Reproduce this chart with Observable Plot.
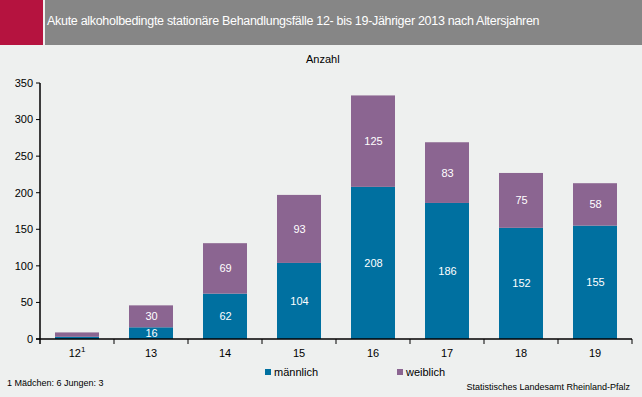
<!DOCTYPE html>
<html><head><meta charset="utf-8">
<script src="https://cdn.jsdelivr.net/npm/d3@7"></script>
<script src="https://cdn.jsdelivr.net/npm/@observablehq/plot@0.6"></script>
<style>
body{margin:0;}
#wrap{position:relative;width:642px;height:397px;background:#eef0ef;font-family:"Liberation Sans",Arial,sans-serif;overflow:hidden;}
#red{position:absolute;left:0;top:0;width:43px;height:45px;background:#b5133f;}
#gray{position:absolute;left:45px;top:0;width:597px;height:45px;background:#868686;}
#title{position:absolute;left:47px;top:14px;color:#fff;font-size:12.5px;letter-spacing:-0.3px;white-space:nowrap;}
#anzahl{position:absolute;left:306px;top:53px;font-size:11px;color:#000;}
#chart{position:absolute;left:0;top:0;}
.leg{position:absolute;top:366px;font-size:11px;color:#000;white-space:nowrap;}
.sw{display:inline-block;width:6px;height:6px;margin-right:3px;vertical-align:1px;}
#foot{position:absolute;left:7px;top:378px;font-size:9px;color:#000;}
#src{position:absolute;right:12px;top:382px;font-size:9px;color:#000;}
</style></head>
<body>
<div id="wrap">
<div id="chart"></div>
<div id="red"></div><div id="gray"></div>
<div id="title">Akute alkoholbedingte stationäre Behandlungsfälle 12- bis 19-Jähriger 2013 nach Altersjahren</div>
<div id="anzahl">Anzahl</div>
<div class="leg" style="left:265px"><span class="sw" style="background:#0070a0"></span>männlich</div>
<div class="leg" style="left:397px"><span class="sw" style="background:#8b6591"></span>weiblich</div>
<div id="foot">1 Mädchen: 6 Jungen: 3</div>
<div id="src">Statistisches Landesamt Rheinland-Pfalz</div>
</div>
<script>
const ages = ["12","13","14","15","16","17","18","19"];
const tickLabels = ["12¹","13","14","15","16","17","18","19"];
const maennlich = [3,16,62,104,208,186,152,155];
const weiblich = [6,30,69,93,125,83,75,58];
const showLabel = [false,true,true,true,true,true,true,true];
const colors = {"männlich":"#0070a0","weiblich":"#8b6591"};

const data = [];
ages.forEach((a,i)=>{
  data.push({age:a, sex:"männlich", value:maennlich[i], label:showLabel[i]});
  data.push({age:a, sex:"weiblich", value:weiblich[i], label:showLabel[i]});
});

const W=642, H=397, mt=83, mb=58, ml=40, mr=10;
const plot = Plot.plot({
  width:W, height:H, marginTop:mt, marginBottom:mb, marginLeft:ml, marginRight:mr,
  style:{background:"transparent", fontFamily:"'Liberation Sans',Arial,sans-serif", fontSize:"11px", color:"#000"},
  x:{domain:ages, paddingInner:0.4, paddingOuter:0.2, axis:null},
  y:{domain:[0,350], axis:null},
  color:{domain:["männlich","weiblich"], range:[colors["männlich"],colors["weiblich"]]},
  marks:[
    Plot.barY(data, Plot.stackY({x:"age", y:"value", fill:"sex", order:["männlich","weiblich"]})),
    Plot.text(data.filter(d=>d.label), Plot.stackY({x:"age", y:"value", z:"sex", order:["männlich","weiblich"], text:d=>String(d.value), fill:"white", fontSize:11}))
  ]
});

const svg = d3.select(plot);
const xs = plot.scale("x"), ys = plot.scale("y");
const y0 = ys.apply(0), y350 = ys.apply(350);
const g = svg.append("g").attr("stroke","#000");
g.append("line").attr("x1",ml).attr("x2",ml).attr("y1",y350).attr("y2",y0+5).attr("stroke-width",1.5);
g.append("line").attr("x1",ml-4).attr("x2",W-mr).attr("y1",y0).attr("y2",y0).attr("stroke-width",1.5);
d3.range(0,351,50).forEach(t=>{
  const y = ys.apply(t);
  g.append("line").attr("x1",ml-4).attr("x2",ml).attr("y1",y).attr("y2",y);
  svg.append("text").attr("x",ml-7).attr("y",y).attr("dy","0.35em").attr("text-anchor","end").attr("font-size",11).text(t);
});
const step = xs.step, bw = xs.bandwidth;
ages.forEach((a,i)=>{
  const xr = xs.apply(a) - (step - bw)/2 + step;
  g.append("line").attr("x1",xr).attr("x2",xr).attr("y1",y0).attr("y2",y0+5);
  const cx = xs.apply(a) + bw/2;
  const t = svg.append("text").attr("x",cx).attr("y",y0+18).attr("text-anchor","middle").attr("font-size",11);
  if (tickLabels[i].endsWith("¹")) {
    t.text(tickLabels[i].slice(0,-1));
    t.append("tspan").attr("dy",-5).attr("font-size",8).text("1");
  } else t.text(tickLabels[i]);
});
document.getElementById("chart").appendChild(plot);
</script>
</body></html>
